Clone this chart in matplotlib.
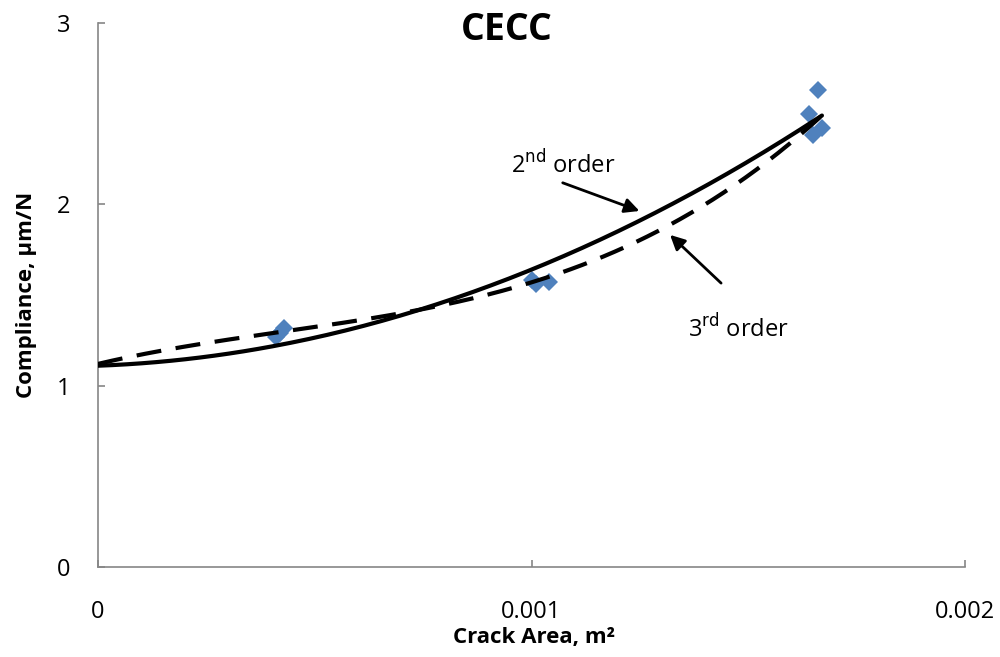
import numpy as np
import matplotlib as mpl
mpl.use('Agg')
import matplotlib.pyplot as plt

# measured points (crack area m^2, compliance um/N)
crackArea = [0.000410, 0.000420, 0.000430, 0.001000, 0.001010, 0.001040,
             0.001640, 0.001660, 0.001650, 0.001670]
compliance = [1.27, 1.29, 1.32, 1.58, 1.56, 1.57,
              2.50, 2.63, 2.38, 2.42]

# trendline coefficients, highest power first
coef2nd = [4.42e5, 88.0, 1.11]
coef3rd = [3.997e8, -5.14e5, 564.0, 1.12]
fitRange = [0.0, 0.00167]

plt.rcParams['font.family'] = ['Open Sans', 'DejaVu Sans']

fig = plt.figure(figsize=(10, 6.57), dpi=100)
ax = fig.add_axes([0.098, 0.137, 0.867, 0.828])

xs = np.linspace(fitRange[0], fitRange[1], 200)
ax.plot(xs, np.polyval(coef2nd, xs), color='black', linewidth=3.0, solid_capstyle='round', zorder=3)
ax.plot(xs, np.polyval(coef3rd, xs), color='black', linewidth=3.0, linestyle=(0, (6, 3.5)), zorder=3)
ax.plot(crackArea, compliance, linestyle='None', marker='D', markersize=9,
        color='#4F81BD', markeredgewidth=0, zorder=2)

ax.set_xlim(0, 0.002)
ax.set_ylim(0, 3)
ax.set_xticks([0, 0.001, 0.002])
ax.set_xticklabels(['0', '0.001', '0.002'])
ax.set_yticks([0, 1, 2, 3])
ax.set_yticklabels(['0', '1', '2', '3'])

for side in ['top', 'right']:
    ax.spines[side].set_visible(False)
for side in ['left', 'bottom']:
    ax.spines[side].set_color('#868686')
    ax.spines[side].set_linewidth(1.2)
ax.tick_params(direction='in', length=5, color='#868686', width=1.2, labelsize=17, pad=20)
ax.tick_params(axis='x', pad=24)

fig.text(0.507, 1 - 30 / 657, 'CECC', fontsize=27, fontweight='bold', ha='center', va='center')
fig.text(0.534, 1 - 638 / 657, 'Crack Area, m\u00b2', fontsize=16, fontweight='bold', ha='center', va='center')
ax.set_ylabel('Compliance, \u03bcm/N', fontsize=16, fontweight='bold', labelpad=14)

ax.annotate('', xy=(0.001255, 1.958), xytext=(0.001066, 2.124),
            arrowprops=dict(arrowstyle='-|>', color='black', lw=2, mutation_scale=22))
ax.annotate('', xy=(0.001315, 1.842), xytext=(0.001442, 1.555),
            arrowprops=dict(arrowstyle='-|>', color='black', lw=2, mutation_scale=22))
ax.text(0.000953, 2.173, '2$^{\\mathrm{nd}}$ order', fontsize=17, va='baseline')
ax.text(0.001361, 1.269, '3$^{\\mathrm{rd}}$ order', fontsize=17, va='baseline')

fig.savefig('out.png', dpi=100)
